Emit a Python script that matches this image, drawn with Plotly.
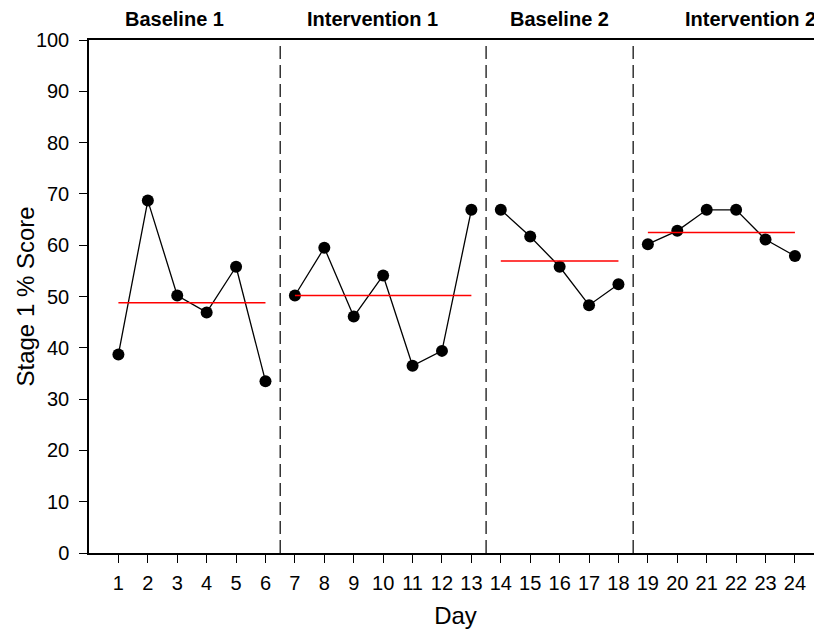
import plotly.graph_objects as go

# Data
phase_names = ["Baseline 1", "Intervention 1", "Baseline 2", "Intervention 2"]
phase_days = [
    [1, 2, 3, 4, 5, 6],
    [7, 8, 9, 10, 11, 12, 13],
    [14, 15, 16, 17, 18],
    [19, 20, 21, 22, 23, 24],
]
phase_scores = [
    [38.7, 68.7, 50.2, 46.9, 55.8, 33.5],
    [50.2, 59.5, 46.1, 54.1, 36.5, 39.4, 66.9],
    [66.9, 61.7, 55.8, 48.3, 52.4],
    [60.2, 62.8, 66.9, 66.9, 61.1, 57.9],
]
phase_means = [48.8, 50.2, 56.9, 62.5]
phase_boundaries = [6.5, 13.5, 18.5]
phase_label_x = [2.9, 9.65, 16.0, 22.5]
day_ticks = list(range(1, 25))
y_ticks = list(range(0, 101, 10))

FONT = "Liberation Sans, Arial, Helvetica, sans-serif"

fig = go.Figure()

for days, scores, mean in zip(phase_days, phase_scores, phase_means):
    fig.add_trace(go.Scatter(
        x=days, y=scores, mode="lines+markers",
        line=dict(color="black", width=1.3),
        marker=dict(color="black", size=12),
        showlegend=False, hoverinfo="x+y",
    ))
    fig.add_trace(go.Scatter(
        x=[days[0], days[-1]], y=[mean, mean], mode="lines",
        line=dict(color="#ff0000", width=1.5),
        showlegend=False, hoverinfo="y",
    ))

for b in phase_boundaries:
    fig.add_shape(type="line", xref="x", yref="paper", x0=b, x1=b, y0=0, y1=1,
                  line=dict(color="black", width=1.2, dash="13px,6px"), layer="below")

for name, lx in zip(phase_names, phase_label_x):
    fig.add_annotation(x=lx, xref="x", y=1, yref="paper", yshift=21,
                       text="<b>%s</b>" % name, showarrow=False,
                       font=dict(family=FONT, size=20, color="black"),
                       xanchor="center", yanchor="middle")

# y-axis title placed as rotated text
fig.add_annotation(x=0, xref="paper", xshift=-64, y=0.5, yref="paper",
                   text="Stage 1 % Score", textangle=-90, showarrow=False,
                   font=dict(family=FONT, size=24, color="black"),
                   xanchor="center", yanchor="middle")

# page body adds an 8px offset; figure sized so plot lands where the reference has it
fig.update_layout(
    width=814, height=624,
    margin=dict(l=81, r=0, t=32, b=79, pad=0, autoexpand=False),
    paper_bgcolor="white", plot_bgcolor="white",
    font=dict(family=FONT, size=20, color="black"),
    xaxis=dict(
        range=[0, 24.92], tickmode="array", tickvals=day_ticks,
        ticktext=[str(d) for d in day_ticks], automargin=False,
        showgrid=False, zeroline=False, showline=True, linecolor="black",
        linewidth=1.5, mirror=True, ticks="outside", ticklen=8, tickwidth=1.3,
        tickcolor="black", tickfont=dict(size=20), ticklabelstandoff=3,
        title=dict(text="Day", font=dict(size=24), standoff=14),
    ),
    yaxis=dict(
        range=[0, 100], tickmode="array", tickvals=y_ticks, automargin=False,
        showgrid=False, zeroline=False, showline=True, linecolor="black",
        linewidth=1.5, ticks="outside", ticklen=8, tickwidth=1.3,
        tickcolor="black", tickfont=dict(size=20), ticklabelstandoff=6,
    ),
)

fig.write_html("out.html")
